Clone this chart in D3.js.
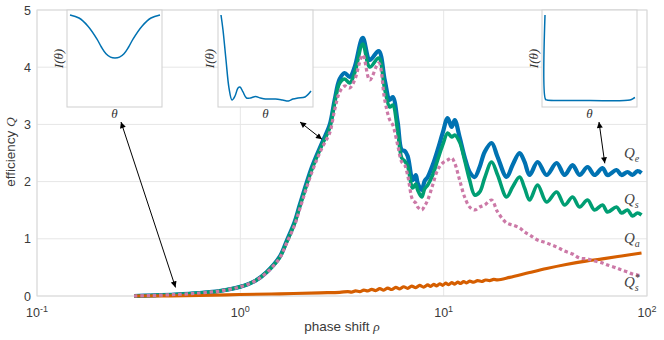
<!DOCTYPE html>
<html>
<head>
<meta charset="utf-8">
<script src="https://cdn.jsdelivr.net/npm/d3@7"></script>
<style>
body { margin: 0; background: #fff; }
svg { display: block; }
</style>
</head>
<body>
<div id="chart"></div>
<script>
// ---- data ----
var rho = [0.30, 0.36, 0.48, 0.63, 0.79, 0.99, 1.18, 1.35, 1.56, 1.69,
           1.85, 1.96, 2.25, 2.52, 2.75, 2.91, 3.08, 3.26, 3.45, 3.65,
           4.00, 4.33, 4.79, 5.13, 5.43, 5.62, 5.94, 6.22, 6.43, 6.65,
           7.04, 7.29, 7.45, 7.80, 8.06, 8.35, 8.83, 9.34, 9.89, 10.46,
           10.95, 11.33, 11.98, 12.68, 13.42, 14.21, 15.03, 15.91, 17.21, 18.42,
           20.40, 21.83, 23.63, 25.00, 26.46, 28.97, 32.07, 35.93, 39.33, 43.05,
           46.60, 51.01, 55.21, 60.43, 63.96, 70.82, 74.94, 80.21, 84.88, 89.82,
           93.97];

var qExt = [0, 0.009, 0.026, 0.052, 0.087, 0.157, 0.262, 0.420, 0.682, 0.962,
            1.294, 1.591, 2.255, 2.675, 2.990, 3.427, 3.794, 3.899, 3.829, 4.004,
            4.511, 4.126, 4.283, 3.776, 3.427, 3.479, 3.042, 2.553, 2.535, 2.448,
            2.028, 2.115, 1.976, 1.853, 2.011, 2.080, 2.290, 2.553, 2.850, 3.112,
            2.955, 3.077, 2.780, 2.430, 2.168, 2.080, 2.255, 2.518, 2.675, 2.430,
            2.080, 2.290, 2.500, 2.343, 2.115, 2.343, 2.115, 2.325, 2.115, 2.290,
            2.115, 2.255, 2.115, 2.238, 2.115, 2.203, 2.115, 2.168, 2.115, 2.185,
            2.150];

var qSca = [0, 0.009, 0.026, 0.052, 0.087, 0.157, 0.262, 0.420, 0.673, 0.944,
            1.276, 1.565, 2.220, 2.640, 2.937, 3.374, 3.724, 3.794, 3.724, 3.899,
            4.406, 4.003, 4.161, 3.619, 3.304, 3.339, 2.885, 2.413, 2.360, 2.273,
            1.888, 1.958, 1.853, 1.731, 1.871, 1.941, 2.115, 2.378, 2.640, 2.850,
            2.780, 2.815, 2.692, 2.378, 2.028, 1.766, 1.818, 2.063, 2.343, 2.115,
            1.731, 1.906, 2.080, 1.888, 1.678, 1.941, 1.643, 1.818, 1.591, 1.731,
            1.556, 1.678, 1.504, 1.591, 1.469, 1.556, 1.451, 1.504, 1.399, 1.451,
            1.416];

var qScaStar = [0, 0.009, 0.026, 0.052, 0.087, 0.157, 0.262, 0.411, 0.664, 0.927,
                1.241, 1.521, 2.168, 2.587, 2.850, 3.252, 3.567, 3.672, 3.637, 3.776,
                4.213, 3.776, 4.073, 3.427, 3.077, 2.990, 2.640, 2.343, 2.290, 2.115,
                1.678, 1.626, 1.556, 1.504, 1.573, 1.678, 1.941, 2.203, 2.325, 2.378,
                2.413, 2.325, 2.028, 1.731, 1.556, 1.504, 1.556, 1.591, 1.678, 1.469,
                1.276, 1.241, 1.189, 1.119, 1.066, 0.979, 0.927, 0.857, 0.787, 0.734,
                0.664, 0.647, 0.612, 0.577, 0.542, 0.490, 0.455, 0.420, 0.385, 0.367,
                0.350];

var rhoAbs = [0.30, 0.63, 0.99, 1.56, 2.46, 3.08, 3.38, 3.53, 3.69, 3.87,
              4.05, 4.23, 4.43, 4.63, 4.85, 5.07, 5.31, 5.55, 5.81, 6.08,
              6.36, 6.65, 6.96, 7.29, 7.62, 7.97, 8.35, 8.63, 8.93, 9.24,
              9.56, 9.89, 10.23, 10.58, 10.95, 11.33, 11.72, 12.12, 12.54, 12.97,
              13.42, 14.04, 14.69, 15.38, 16.09, 16.83, 17.61, 18.42, 21.10, 26.46,
              32.1, 40.0, 50.0, 60.4, 75.0, 93.97];
var qAbs = [0, 0.009, 0.026, 0.038, 0.056, 0.065, 0.076, 0.069, 0.090, 0.077,
            0.104, 0.088, 0.116, 0.095, 0.128, 0.103, 0.139, 0.114, 0.152, 0.126,
            0.162, 0.135, 0.173, 0.145, 0.185, 0.156, 0.194, 0.168, 0.203, 0.177,
            0.214, 0.187, 0.224, 0.198, 0.233, 0.208, 0.242, 0.219, 0.251, 0.229,
            0.259, 0.242, 0.268, 0.254, 0.280, 0.268, 0.290, 0.283, 0.325, 0.410,
            0.480, 0.550, 0.610, 0.650, 0.700, 0.752];

var yTicks = [0, 1, 2, 3, 4, 5];
var xTicks = [0.1, 1, 10, 100];
var xTickExp = ['-1', '0', '1', '2'];

// insets: angular intensity I(theta), theta in degrees
var theta1 = [0, 18, 36, 54, 63, 72, 81, 90, 99, 108, 117, 126, 144, 162, 180];
var inten1 = [1.0, 0.965, 0.87, 0.72, 0.625, 0.55, 0.51, 0.50, 0.51, 0.55, 0.625, 0.72, 0.87, 0.965, 1.0];
var theta2 = [0, 4, 10, 16, 22, 28, 34, 38, 44, 51, 59, 69, 79, 89, 109, 123, 135, 144, 154, 168, 180];
var inten2 = [1.0, 0.826, 0.477, 0.151, 0.012, 0.058, 0.151, 0.163, 0.105, 0.035, 0.035, 0.052, 0.035, 0.023, 0.023, 0.012, 0, 0.023, 0.035, 0.047, 0.116];
var theta3 = [0, 1, 4, 90, 170, 178, 180];
var inten3 = [1.0, 0.02, 0.012, 0.006, 0.012, 0.035, 0.04];
var insetRho = [0.48, 2.52, 62];   // where each inset arrow points
var insetQ = [0.08, 2.67, 2.25];

var labelRho = 77;
var labelQ = [2.50, 1.68, 1.01, 0.23];

// ---- setup ----
var width = 664, height = 340;
var svg = d3.select('#chart').append('svg')
  .attr('width', width)
  .attr('height', height);

var x = d3.scaleLog().domain([0.1, 100]).range([37, 647]);
var y = d3.scaleLinear().domain([0, 5]).range([296, 10]);

var blue = '#0072B2', green = '#009E73', orange = '#D55E00', pink = '#CC79A7';
var sans = "'Liberation Sans', Arial, sans-serif";
var serif = "'Liberation Serif', 'DejaVu Serif', serif";

// grid
svg.append('g').selectAll('line.h')
  .data(yTicks).enter().append('line')
  .attr('x1', x(0.1)).attr('x2', x(100))
  .attr('y1', function(d) { return y(d); })
  .attr('y2', function(d) { return y(d); })
  .style('stroke', '#e6e6e6').style('stroke-width', 1);
svg.append('g').selectAll('line.v')
  .data(xTicks).enter().append('line')
  .attr('x1', function(d) { return x(d); })
  .attr('x2', function(d) { return x(d); })
  .attr('y1', y(0)).attr('y2', y(5))
  .style('stroke', '#e6e6e6').style('stroke-width', 1);
svg.append('rect')
  .attr('x', x(0.1)).attr('y', y(5))
  .attr('width', x(100) - x(0.1)).attr('height', y(0) - y(5))
  .style('fill', 'none').style('stroke', '#d9d9d9').style('stroke-width', 1);

// tick labels
svg.append('g').selectAll('text')
  .data(yTicks).enter().append('text')
  .attr('x', 31)
  .attr('y', function(d) { return y(d); })
  .attr('dy', '0.36em')
  .attr('text-anchor', 'end')
  .style('font-family', sans).style('font-size', '12.5px').style('fill', '#3a3a3a')
  .text(function(d) { return d; });

var xt = svg.append('g').selectAll('text')
  .data(xTicks).enter().append('text')
  .attr('x', function(d) { return x(d); })
  .attr('y', 317)
  .attr('text-anchor', 'middle')
  .style('font-family', sans).style('font-size', '12.5px').style('fill', '#3a3a3a');
xt.append('tspan').text('10');
xt.append('tspan')
  .attr('dy', -5)
  .style('font-size', '9px')
  .text(function(d, i) { return xTickExp[i]; });

// axis titles
var xl = svg.append('text')
  .attr('x', 342).attr('y', 331)
  .attr('text-anchor', 'middle')
  .style('font-family', sans).style('font-size', '13.5px').style('fill', '#3a3a3a');
xl.append('tspan').text('phase shift ');
xl.append('tspan').style('font-family', serif).style('font-style', 'italic').text('ρ');

var yl = svg.append('text')
  .attr('transform', 'translate(15,152) rotate(-90)')
  .attr('text-anchor', 'middle')
  .style('font-family', sans).style('font-size', '13.5px').style('fill', '#3a3a3a');
yl.append('tspan').text('efficiency ');
yl.append('tspan').style('font-family', serif).style('font-style', 'italic').text('Q');

// curves
var line = d3.line()
  .x(function(d) { return x(d[0]); })
  .y(function(d) { return y(d[1]); })
  .curve(d3.curveCatmullRom.alpha(0.5));

function series(qs) { return rho.map(function(r, i) { return [r, qs[i]]; }); }

svg.append('path').datum(series(qExt)).attr('d', line)
  .style('fill', 'none').style('stroke', blue).style('stroke-width', 4.2).style('stroke-linejoin', 'round');
svg.append('path').datum(series(qSca)).attr('d', line)
  .style('fill', 'none').style('stroke', green).style('stroke-width', 3.6).style('stroke-linejoin', 'round');
svg.append('path').datum(rhoAbs.map(function(r, i) { return [r, qAbs[i]]; })).attr('d', line)
  .style('fill', 'none').style('stroke', orange).style('stroke-width', 3.2).style('stroke-linejoin', 'round');
svg.append('path').datum(series(qScaStar)).attr('d', line)
  .style('fill', 'none').style('stroke', pink).style('stroke-width', 3.2)
  .style('stroke-dasharray', '3.5,2.8');

// curve labels
var labels = [['e', ''], ['s', ''], ['a', ''], ['s', '*']];
var lt = svg.append('g').selectAll('text')
  .data(labels).enter().append('text')
  .attr('x', x(labelRho))
  .attr('y', function(d, i) { return y(labelQ[i]); })
  .attr('dy', '0.3em')
  .style('font-family', serif).style('font-style', 'italic')
  .style('font-size', '15px').style('fill', '#444');
lt.append('tspan').text('Q');
lt.each(function(d) {
  var t = d3.select(this);
  if (d[1]) {
    t.append('tspan').attr('dy', -6).style('font-size', '10px').text(d[1]);
    t.append('tspan').attr('dx', -5).attr('dy', 10).style('font-size', '10px').text(d[0]);
  } else {
    t.append('tspan').attr('dy', 4).style('font-size', '10px').text(d[0]);
  }
});

// insets
var insets = [
  { left: 67, theta: theta1, inten: inten1 },
  { left: 218, theta: theta2, inten: inten2 },
  { left: 542, theta: theta3, inten: inten3 }
];
var boxW = 95, boxH = 97, boxTop = 10;

var defs = svg.append('defs');
defs.append('marker')
  .attr('id', 'head')
  .attr('viewBox', '0 0 10 10')
  .attr('refX', 10).attr('refY', 5)
  .attr('markerWidth', 8).attr('markerHeight', 6)
  .attr('markerUnits', 'userSpaceOnUse')
  .attr('orient', 'auto-start-reverse')
  .append('path').attr('d', 'M0,0 L10,5 L0,10 z').style('fill', '#000');

insets.forEach(function(ins, k) {
  var g = svg.append('g');
  g.append('rect')
    .attr('x', ins.left).attr('y', boxTop)
    .attr('width', boxW).attr('height', boxH)
    .style('fill', '#fff').style('stroke', '#cfcfcf').style('stroke-width', 1);
  var ix = d3.scaleLinear().domain([0, 180]).range([ins.left + 3, ins.left + boxW - 2]);
  var iy = d3.scaleLinear().domain([0, 1]).range([boxTop + 91, boxTop + 5]);
  var il = d3.line()
    .x(function(d) { return ix(d[0]); })
    .y(function(d) { return iy(d[1]); })
    .curve(d3.curveCatmullRom.alpha(0.5));
  g.append('path')
    .datum(ins.theta.map(function(t, i) { return [t, ins.inten[i]]; }))
    .attr('d', il)
    .style('fill', 'none').style('stroke', blue).style('stroke-width', 1.5);
  g.append('text')
    .attr('x', ins.left + boxW / 2).attr('y', boxTop + boxH + 11)
    .attr('text-anchor', 'middle')
    .style('font-family', serif).style('font-style', 'italic')
    .style('font-size', '13px').style('fill', '#333')
    .text('θ');
  g.append('text')
    .attr('transform', 'translate(' + (ins.left - 4) + ',' + (boxTop + boxH / 2) + ') rotate(-90)')
    .attr('text-anchor', 'middle')
    .style('font-family', serif).style('font-style', 'italic')
    .style('font-size', '13px').style('fill', '#333')
    .text('I(θ)');

  // double-headed arrow from inset to the curve
  var tailX = [121, 300, 599][k];
  svg.append('line')
    .attr('x1', tailX).attr('y1', boxTop + boxH + 15)
    .attr('x2', x(insetRho[k])).attr('y2', y(insetQ[k]) - 4)
    .style('stroke', '#000').style('stroke-width', 1)
    .attr('marker-start', 'url(#head)')
    .attr('marker-end', 'url(#head)');
});
</script>
</body>
</html>
